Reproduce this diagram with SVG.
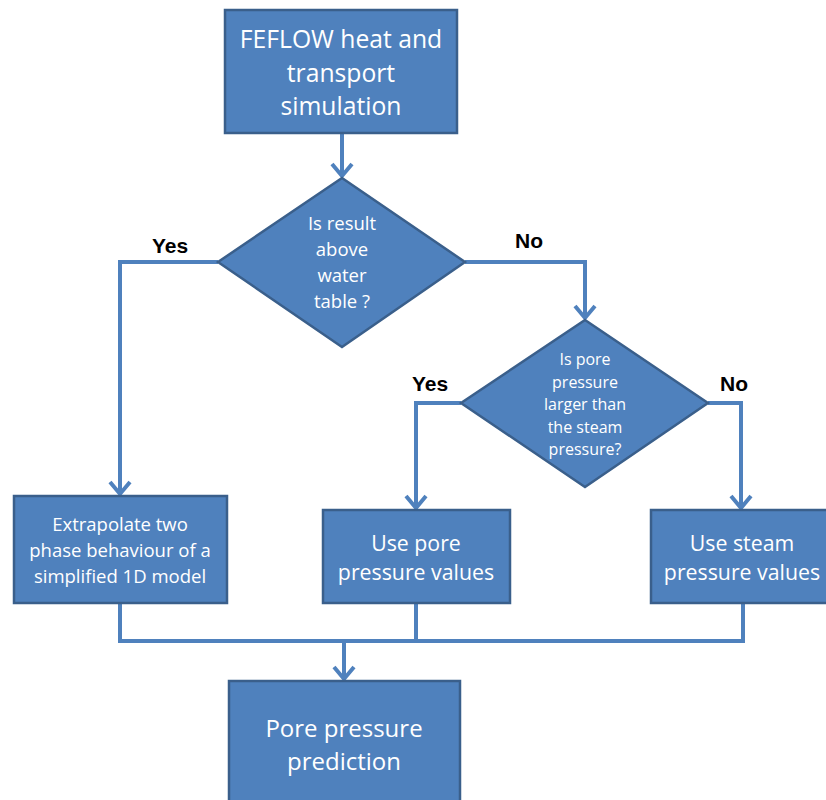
<svg xmlns="http://www.w3.org/2000/svg" width="826" height="800" viewBox="0 0 826 800">
<defs>
<style>
.box{fill:#4F81BD;stroke:#3A5F8B;stroke-width:2.5}
.t{fill:#FFFFFF;font-family:"Open Sans","Liberation Sans",sans-serif;text-anchor:middle}
.lbl{fill:#000000;font-family:"Liberation Sans",sans-serif;font-weight:bold;font-size:21px;text-anchor:middle}
.c{fill:none;stroke:#4F81BD;stroke-width:4;stroke-linejoin:miter}
</style>
<marker id="ah" markerUnits="userSpaceOnUse" viewBox="-16 -14 20 28" markerWidth="20" markerHeight="28" refX="0" refY="0" orient="auto" overflow="visible">
<path d="M-12,-10 L0,0 L-12,10" fill="none" stroke="#4F81BD" stroke-width="4"/>
</marker>
</defs>
<rect width="826" height="800" fill="#FFFFFF"/>
<g id="connectors">
<path class="c" d="M342,133 V176" marker-end="url(#ah)"/>
<path class="c" d="M218,262 H120 V494" marker-end="url(#ah)"/>
<path class="c" d="M465,262 H585 V318" marker-end="url(#ah)"/>
<path class="c" d="M461,403 H416 V508" marker-end="url(#ah)"/>
<path class="c" d="M708,403 H741 V508" marker-end="url(#ah)"/>
<path class="c" d="M120,603 V641 H743 V603"/>
<path class="c" d="M416,603 V641"/>
<path class="c" d="M344,641 V679" marker-end="url(#ah)"/>
</g>
<g id="n-feflow">
<rect class="box" x="225" y="10" width="232" height="123"/>
<text class="t" font-size="24.7"><tspan x="341" y="48">FEFLOW heat and</tspan><tspan x="341" y="82">transport</tspan><tspan x="341" y="115">simulation</tspan></text>
</g>
<g id="n-water">
<polygon class="box" points="342,178 465,262 342,347 218,262"/>
<text class="t" font-size="18.5"><tspan x="342" y="230">Is result</tspan><tspan x="342" y="256">above</tspan><tspan x="342" y="282">water</tspan><tspan x="342" y="308">table ?</tspan></text>
</g>
<g id="n-pore-q">
<polygon class="box" points="585,320 708,403 585,487 461,403"/>
<text class="t" font-size="16"><tspan x="585" y="365">Is pore</tspan><tspan x="585" y="388">pressure</tspan><tspan x="585" y="410">larger than</tspan><tspan x="585" y="433">the steam</tspan><tspan x="585" y="455">pressure?</tspan></text>
</g>
<g id="labels">
<text class="lbl" x="170" y="253">Yes</text>
<text class="lbl" x="529" y="248">No</text>
<text class="lbl" x="430" y="391">Yes</text>
<text class="lbl" x="734" y="391">No</text>
</g>
<g id="n-extrapolate">
<rect class="box" x="14" y="496" width="213" height="107"/>
<text class="t" font-size="18.5"><tspan x="120" y="531">Extrapolate two</tspan><tspan x="120" y="557">phase behaviour of a</tspan><tspan x="120" y="583">simplified 1D model</tspan></text>
</g>
<g id="n-usepore">
<rect class="box" x="323" y="510" width="187" height="93"/>
<text class="t" font-size="21.3"><tspan x="416" y="551">Use pore</tspan><tspan x="416" y="580">pressure values</tspan></text>
</g>
<g id="n-usesteam">
<rect class="box" x="651" y="510" width="182" height="93"/>
<text class="t" font-size="21.3"><tspan x="742" y="551">Use steam</tspan><tspan x="742" y="580">pressure values</tspan></text>
</g>
<g id="n-prediction">
<rect class="box" x="229" y="681" width="231" height="125"/>
<text class="t" font-size="24"><tspan x="344" y="737">Pore pressure</tspan><tspan x="344" y="770">prediction</tspan></text>
</g>
</svg>
